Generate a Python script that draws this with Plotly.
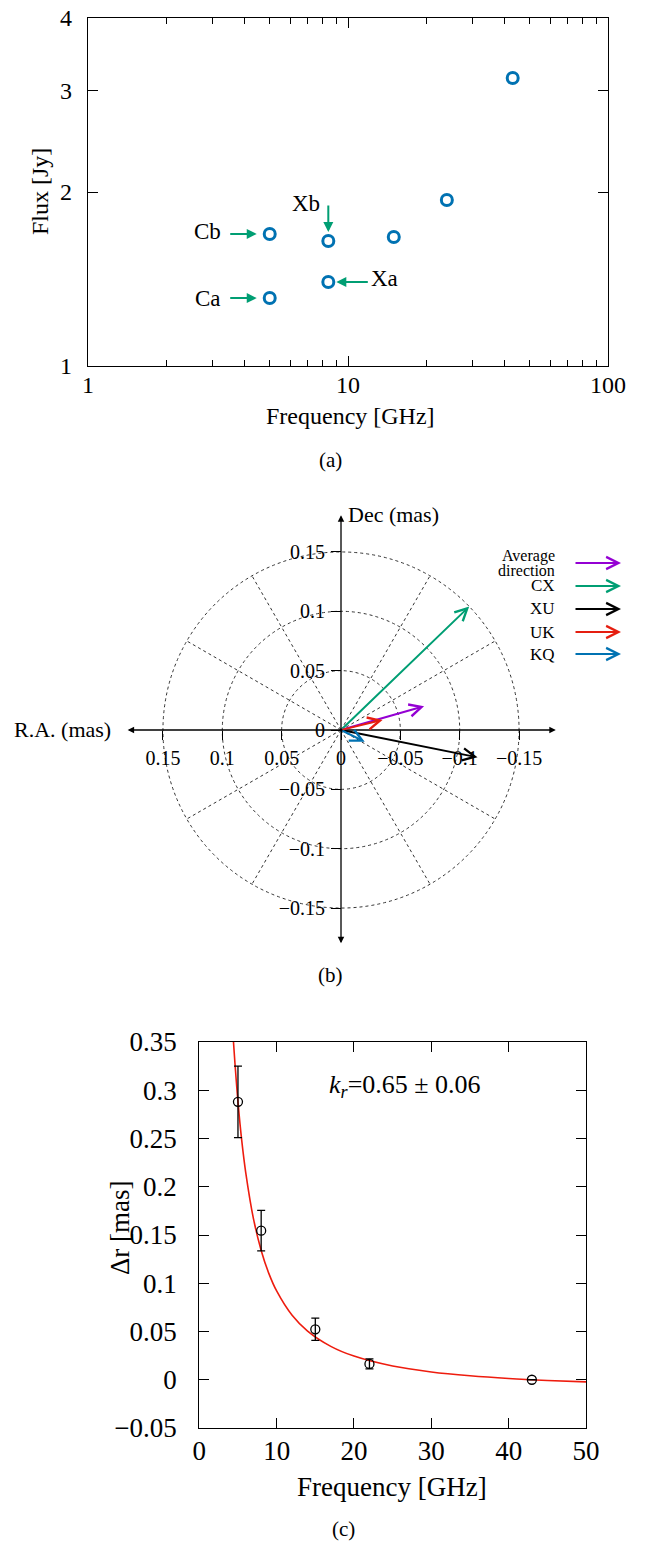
import math
import plotly.graph_objects as go

W, H = 651, 1546
FONT = "Liberation Serif"

# ---------------- Panel (a): flux vs frequency ----------------
freq_a = [5.0, 5.0, 8.4, 8.4, 15.0, 24.0, 43.0]
flux_a = [1.311, 1.692, 1.397, 1.645, 1.672, 1.937, 3.15]
point_labels = ["Ca", "Cb", "Xa", "Xb"]          # labels of the first four points
x_ticks_a = [1, 10, 100]
x_minor_a = [2, 3, 4, 5, 6, 7, 8, 9, 20, 30, 40, 50, 60, 70, 80, 90]
y_ticks_a = [1, 2, 3, 4]

# ---------------- Panel (b): core-shift vectors ----------------
vec_names = [["Average", "direction"], ["CX"], ["XU"], ["UK"], ["KQ"]]
vec_ra = [-0.070, -0.108, -0.115, -0.035, -0.020]
vec_dec = [0.020, 0.104, -0.023, 0.0085, -0.010]
vec_colors = ["#9400d3", "#009e73", "#000000", "#e51e10", "#0072b2"]
ring_radii = [0.05, 0.10, 0.15]
spoke_angles = [30, 60, 120, 150, 210, 240, 300, 330]
b_ticks = [0.15, 0.1, 0.05, 0, -0.05, -0.1, -0.15]
b_ticktext = ["0.15", "0.1", "0.05", "0", "\u22120.05", "\u22120.1", "\u22120.15"]

# ---------------- Panel (c): core shift vs frequency ----------------
freq_c = [5, 8, 15, 22, 43]
dr_c = [0.288, 0.1545, 0.0523, 0.0164, 0.0]
err_c = [0.037, 0.021, 0.0116, 0.0052, 0.0]
fit_freq = [4.42, 4.6, 5, 5.5, 6, 7, 8, 9, 10, 12, 14, 17, 20, 25, 30, 35, 40, 45, 50]
fit_dr = [0.350, 0.329, 0.288, 0.247, 0.215, 0.167, 0.134, 0.110, 0.092, 0.0668,
          0.0504, 0.0346, 0.0245, 0.0142, 0.0081, 0.0041, 0.0013, -0.0007, -0.0022]

fig = go.Figure()

# (a) points
fig.add_trace(go.Scatter(
    x=freq_a, y=flux_a, mode="markers", xaxis="x", yaxis="y", showlegend=False,
    marker=dict(symbol="circle-open", size=11, color="#0072b2",
                line=dict(width=3, color="#0072b2")), hoverinfo="x+y"))

# (b) anchor trace (invisible) so that the polar-like subplot exists
fig.add_trace(go.Scatter(x=[0], y=[0], mode="markers", xaxis="x2", yaxis="y2",
                         showlegend=False, marker=dict(opacity=0), hoverinfo="skip"))

# (c) fit curve and measurements
fig.add_trace(go.Scatter(x=fit_freq, y=fit_dr, mode="lines", xaxis="x3", yaxis="y3",
                         showlegend=False, line=dict(color="#ee1c0e", width=1.6, shape="spline")))
fig.add_trace(go.Scatter(
    x=freq_c, y=dr_c, mode="markers", xaxis="x3", yaxis="y3", showlegend=False,
    error_y=dict(type="data", array=err_c, color="black", thickness=1.3, width=4),
    marker=dict(symbol="circle-open", size=9, color="black", line=dict(width=1.3, color="black"))))

def px2paper_x(p):
    return p / W

def px2paper_y(p):
    return 1 - p / H

frame = dict(showline=True, linecolor="black", linewidth=1.3, mirror="allticks",
             ticks="inside", tickcolor="black", tickwidth=1.2, showgrid=False, zeroline=False,
             automargin=False)

# centre & scale of panel (b)
cx_px, cy_px, scale_b = 341.0, 730.0, 1187.0
lim_b = 0.181

fig.update_layout(
    template="none",
    width=W, height=H, autosize=False,
    margin=dict(l=0, r=0, t=0, b=0, pad=0, autoexpand=False),
    paper_bgcolor="white", plot_bgcolor="rgba(0,0,0,0)",
    font=dict(family=FONT, color="black"),
    showlegend=False,
    xaxis=dict(type="log", range=[0, 2], domain=[px2paper_x(88), px2paper_x(608)], anchor="y",
               tickmode="array", tickvals=x_ticks_a, ticktext=[str(v) for v in x_ticks_a],
               ticklen=10, tickfont=dict(size=24), ticklabelstandoff=-3,
               minor=dict(tickmode="array", tickvals=x_minor_a, ticks="inside", ticklen=6,
                          tickcolor="black", tickwidth=1, showgrid=False),
               **frame),
    yaxis=dict(type="log", range=[0, math.log10(4)], domain=[px2paper_y(366), px2paper_y(18)],
               anchor="x", tickmode="array", tickvals=y_ticks_a,
               ticktext=[str(v) for v in y_ticks_a], ticklen=10, tickfont=dict(size=24),
               ticklabelstandoff=10, **frame),
    xaxis2=dict(range=[lim_b, -lim_b],
                domain=[px2paper_x(cx_px - lim_b * scale_b), px2paper_x(cx_px + lim_b * scale_b)],
                anchor="free", position=px2paper_y(cy_px), showline=False, showgrid=False,
                zeroline=False, ticks="outside", ticklen=9, tickcolor="black", tickwidth=1,
                tickmode="array", tickvals=b_ticks, ticktext=b_ticktext, automargin=False,
                tickfont=dict(size=20), ticklabelstandoff=1),
    yaxis2=dict(range=[-lim_b, lim_b],
                domain=[px2paper_y(cy_px + lim_b * scale_b), px2paper_y(cy_px - lim_b * scale_b)],
                anchor="free", position=px2paper_x(cx_px), showline=False, showgrid=False,
                zeroline=False, ticks="outside", ticklen=10, tickcolor="black", tickwidth=1,
                tickmode="array", tickvals=b_ticks, ticktext=b_ticktext, automargin=False,
                tickfont=dict(size=20), ticklabelstandoff=2),
    xaxis3=dict(range=[0, 50], domain=[px2paper_x(199.3), px2paper_x(586)], anchor="y3",
                dtick=10, tick0=0, ticklen=10, tickfont=dict(size=27), ticklabelstandoff=-2,
                **frame),
    yaxis3=dict(range=[-0.05, 0.35], domain=[px2paper_y(1428), px2paper_y(1042)], anchor="x3",
                dtick=0.05, tick0=0, ticklen=10, tickfont=dict(size=27), ticklabelstandoff=16,
                **frame),
)

ann = []

def label(xpx, ypx, text, size, angle=0, xanchor="center"):
    ann.append(dict(x=px2paper_x(xpx), y=px2paper_y(ypx), xref="paper", yref="paper",
                    text=text, showarrow=False, textangle=angle, xanchor=xanchor,
                    yanchor="middle", font=dict(size=size)))

# ---- (a) labelled arrows ----
GREEN = "#009e73"
a_style = [
    dict(ax=-41, ay=0, standoff=13, xs=-47, ys=0, xa="right"),   # Ca
    dict(ax=-41, ay=0, standoff=13, xs=-47, ys=2, xa="right"),   # Cb
    dict(ax=41, ay=0, standoff=8, xs=41, ys=4, xa="left"),       # Xa
    dict(ax=0, ay=-37, standoff=9, xs=-6, ys=38, xa="right"),    # Xb
]
for i, lab in enumerate(point_labels):
    st = a_style[i]
    ann.append(dict(x=math.log10(freq_a[i]), y=math.log10(flux_a[i]), xref="x", yref="y",
                    text="", showarrow=True, ax=st["ax"], ay=st["ay"], axref="pixel", ayref="pixel",
                    arrowhead=2, arrowsize=1, arrowwidth=2, arrowcolor=GREEN,
                    standoff=st["standoff"]))
    ann.append(dict(x=math.log10(freq_a[i]), y=math.log10(flux_a[i]), xref="x", yref="y",
                    text=lab, showarrow=False, xanchor=st["xa"], yanchor="middle",
                    xshift=st["xs"], yshift=st["ys"], font=dict(size=23)))

label(350, 416, "Frequency [GHz]", 24)
label(40, 192, "Flux [Jy]", 24, angle=-90)
label(330, 460, "(a)", 21)

# ---- (b) axes with arrowheads ----
ann.append(dict(x=-lim_b, y=0, ax=lim_b, ay=0, xref="x2", yref="y2", axref="x2", ayref="y2",
                text="", showarrow=True, arrowhead=2, arrowside="end+start", arrowsize=1,
                arrowwidth=1.3, arrowcolor="black"))
ann.append(dict(x=0, y=lim_b, ax=0, ay=-lim_b, xref="x2", yref="y2", axref="x2", ayref="y2",
                text="", showarrow=True, arrowhead=2, arrowside="end+start", arrowsize=1,
                arrowwidth=1.3, arrowcolor="black"))
label(113, 729, "R.A. (mas)", 22, xanchor="right")
label(346, 514, "Dec (mas)", 22, xanchor="left")

# vectors
for ra, dec, col in zip(vec_ra, vec_dec, vec_colors):
    ann.append(dict(x=ra, y=dec, ax=0, ay=0, xref="x2", yref="y2", axref="x2", ayref="y2",
                    text="", showarrow=True, arrowhead=5, arrowsize=1.2, arrowwidth=2,
                    arrowcolor=col))

# key for the vectors
legend_rows_px = [563, 586, 609, 632, 654]
for lines, col, ypx in zip(vec_names, vec_colors, legend_rows_px):
    ann.append(dict(x=px2paper_x(621), y=px2paper_y(ypx), xref="paper", yref="paper",
                    text="", showarrow=True, ax=-47, ay=0, arrowhead=5, arrowsize=1.2,
                    arrowwidth=2, arrowcolor=col))
    n = len(lines)
    for k, line in enumerate(lines):
        label(557, ypx + (k - (n - 1) / 2) * 15, line, 17 if n == 1 else 16, xanchor="right")
label(330, 975, "(b)", 21)

# ---- (c) labels ----
label(405, 1086, "<i>k<sub>r</sub></i>=0.65 \u00b1 0.06", 26)
label(392, 1487, "Frequency [GHz]", 27)
label(120, 1228, "\u0394r [mas]", 27, angle=-90)
label(343, 1529, "(c)", 21)

fig.update_layout(annotations=ann)

# ---- (b) dotted rings and spokes ----
shapes = []
for r in ring_radii:
    shapes.append(dict(type="circle", xref="x2", yref="y2", x0=r, x1=-r, y0=-r, y1=r,
                       line=dict(color="#333333", width=1, dash="dot"), layer="below"))
rmax = max(ring_radii)
for ang in spoke_angles:
    t = math.radians(ang)
    shapes.append(dict(type="line", xref="x2", yref="y2", x0=0, y0=0,
                       x1=rmax * math.cos(t), y1=rmax * math.sin(t),
                       line=dict(color="#333333", width=1, dash="dot"), layer="below"))
fig.update_layout(shapes=shapes)

pin_page = (
    "document.documentElement.style.margin='0';"
    "document.body.style.margin='0';"
    "document.body.style.overflow='hidden';"
    "var gd=document.getElementById('{plot_id}');"
    "gd.style.position='fixed';gd.style.left='0px';gd.style.top='0px';"
)
fig.write_html("out.html",
               config={"responsive": False, "displayModeBar": False},
               post_script=pin_page)
